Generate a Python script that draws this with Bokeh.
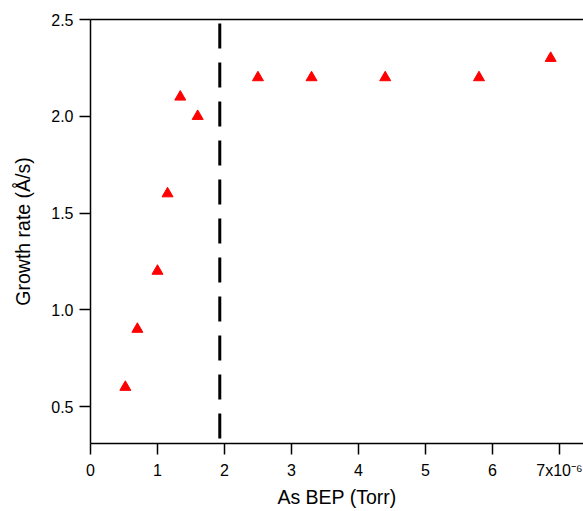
from bokeh.plotting import figure
from bokeh.models import LinearAxis, FixedTicker, Range1d, Span, NumeralTickFormatter
from bokeh.embed import file_html
from bokeh.resources import INLINE

# Data
bep = [0.52, 0.70, 1.0, 1.15, 1.34, 1.60, 2.50, 3.30, 4.40, 5.80, 6.87]
rate = [0.60, 0.90, 1.20, 1.60, 2.10, 2.00, 2.20, 2.20, 2.20, 2.20, 2.30]
threshold_bep = 1.93
x_ticks = [0, 1, 2, 3, 4, 5, 6, 7]
y_ticks = [0.5, 1.0, 1.5, 2.0, 2.5]
x_tick_overrides = {7: "7x10\u207b\u2076"}

FONT = "Liberation Sans"

p = figure(width=583, height=511, output_backend="svg", toolbar_location=None,
           x_range=Range1d(0, 7.36), y_range=Range1d(0.309, 2.5),
           min_border_left=90, min_border_right=0, min_border_top=19, min_border_bottom=68)
p.outline_line_color = None
p.grid.visible = False
p.background_fill_color = "white"
p.border_fill_color = "white"

for ax in (p.xaxis[0], p.yaxis[0]):
    ax.axis_line_width = 1.5
    ax.axis_line_color = "black"
    ax.major_tick_line_width = 1.5
    ax.major_tick_in = 0
    ax.major_tick_out = 11
    ax.minor_tick_line_color = None
    ax.major_label_text_font = FONT
    ax.major_label_text_font_size = "16px"
    ax.major_label_text_color = "black"
    ax.axis_label_text_font = FONT
    ax.axis_label_text_font_size = "19.5px"
    ax.axis_label_text_font_style = "normal"
    ax.axis_label_text_color = "black"

p.xaxis.ticker = FixedTicker(ticks=x_ticks)
p.xaxis.major_label_overrides = x_tick_overrides
p.xaxis.axis_label = "As BEP (Torr)"
p.xaxis.major_label_standoff = 7
p.xaxis.axis_label_standoff = 4

p.yaxis.ticker = FixedTicker(ticks=y_ticks)
p.yaxis.formatter = NumeralTickFormatter(format="0.0")
p.yaxis.axis_label = "Growth rate (Å/s)"
p.yaxis.major_label_standoff = 6
p.yaxis.axis_label_standoff = 14

top = LinearAxis(ticker=FixedTicker(ticks=[]), axis_line_width=1.5,
                 major_tick_out=0, major_tick_in=0, minor_tick_line_color=None,
                 major_label_text_font_size="0px", major_label_standoff=0)
p.add_layout(top, "above")

p.add_layout(Span(location=threshold_bep, dimension="height", line_color="black",
                  line_width=3, line_dash="25 14", line_dash_offset=-4))

p.scatter(bep, rate, marker="triangle", size=11, fill_color="red",
          line_color="red", line_width=1)

open("out.html", "w").write(file_html(p, INLINE))
